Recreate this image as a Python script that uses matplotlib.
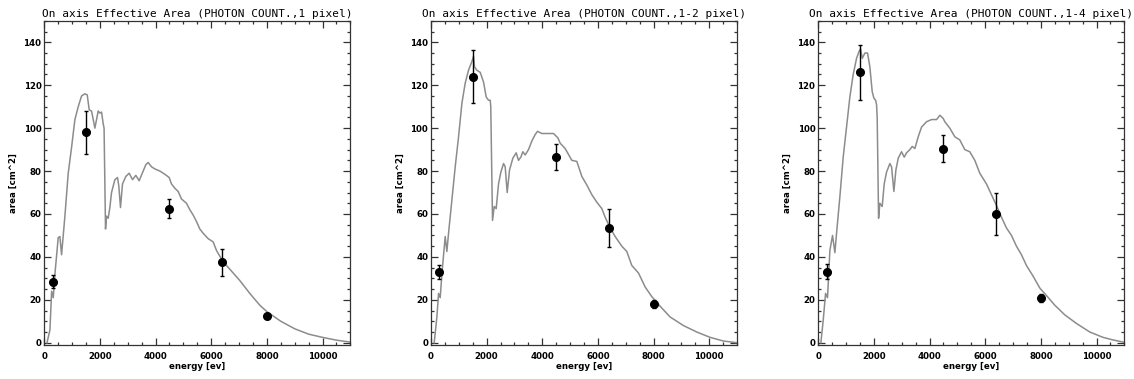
import numpy as np
import matplotlib
matplotlib.use('Agg')
import matplotlib.pyplot as plt
from matplotlib.ticker import MultipleLocator

# measured points (same energies in all panels)
energy_pts = [300, 1500, 4500, 6400, 8000]

area_1pix = [28.5, 98, 62.5, 37.5, 12.5]
err_1pix = [3, 10, 4.6, 6.3, 0.5]
area_2pix = [33, 124, 86.5, 53.5, 18]
err_2pix = [3.4, 12.5, 6.2, 8.7, 1.8]
area_4pix = [33, 126, 90.5, 60, 21]
err_4pix = [3.5, 12.7, 6.5, 9.8, 1.8]

# model effective area curves
curve1_e = [100, 205, 266, 325, 384, 503, 563, 623, 743, 862, 982, 1102, 1222, 1341, 1461,
            1545, 1616, 1700, 1820, 1939, 1999, 2059, 2119, 2150, 2202, 2238, 2298, 2358,
            2418, 2538, 2633, 2680, 2740, 2812, 2932, 3052, 3172, 3291, 3411, 3555, 3651,
            3735, 3854, 3974, 4154, 4333, 4489, 4572, 4692, 4812, 4931, 5111, 5231, 5351,
            5470, 5590, 5710, 5890, 6069, 6189, 6369, 6548, 6788, 7026, 7385, 7744, 8000,
            8500, 9000, 9500, 10000, 10500, 11000]
curve1_a = [0, 6, 24, 21, 32, 49, 49.5, 41, 59, 79, 91, 104, 110, 115, 116,
            115.5, 108.5, 108, 100, 108, 107, 107.5, 102, 100, 53, 59, 58, 63,
            70, 76, 77, 73, 63, 74, 77.5, 79, 76, 78, 75.5, 80, 83,
            84, 82, 81, 80, 78.5, 77, 74, 72, 70.5, 67, 65, 62, 59.5,
            56.5, 53, 51, 48.5, 47, 43, 39, 36, 32.5, 29, 23, 17.5, 14.5,
            10, 6.5, 4, 2.5, 1.2, 0.3]

curve2_e = [118, 214, 274, 334, 394, 513, 573, 633, 753, 873, 993, 1112, 1232, 1351, 1471,
            1531, 1567, 1651, 1771, 1890, 1986, 2070, 2130, 2150, 2213, 2273, 2345, 2429,
            2513, 2609, 2668, 2740, 2824, 2944, 3063, 3147, 3231, 3303, 3386, 3506, 3626,
            3745, 3829, 3985, 4224, 4404, 4560, 4643, 4823, 5062, 5242, 5422, 5601, 5781,
            5960, 6140, 6260, 6439, 6619, 6858, 7038, 7217, 7457, 7696, 7935, 8235, 8594,
            9073, 9552, 10031, 10510, 11000]
curve2_a = [0, 12, 23, 21, 32, 49.5, 42.5, 51, 66.5, 82, 96, 111.5, 121, 127, 131,
            133.5, 128.5, 127, 126, 121.5, 114.5, 113, 113, 110, 57, 63.5, 62.5, 74,
            79.5, 83.5, 82, 70, 80.5, 86, 88.5, 85, 86.5, 89, 87.5, 90, 94,
            97, 98.5, 97.5, 97.5, 97.5, 95.5, 93, 90.5, 85, 84.5, 77.5, 73.5, 69,
            65.5, 62.5, 58.5, 53.5, 49.5, 45, 42.5, 36, 32.5, 26, 21.5, 17, 12,
            8, 5, 2.5, 0.8, 0]

curve3_e = [97, 181, 265, 336, 420, 516, 600, 660, 779, 899, 1019, 1138, 1258, 1378, 1462,
            1522, 1582, 1678, 1774, 1857, 1941, 2001, 2061, 2097, 2120, 2170, 2216, 2300,
            2372, 2456, 2576, 2636, 2720, 2792, 2876, 2995, 3091, 3175, 3295, 3379, 3474,
            3594, 3714, 3894, 4073, 4253, 4373, 4493, 4549, 4729, 4908, 5088, 5267, 5447,
            5627, 5806, 6046, 6225, 6405, 6585, 6764, 6944, 7123, 7303, 7483, 7722, 7961,
            8201, 8500, 8859, 9278, 9757, 10236, 10595, 11000]
curve3_a = [0, 10.5, 23, 21, 43, 50, 42, 51, 68, 86.5, 100.5, 114.5, 125, 132.5, 135.5,
            137, 132.5, 135, 135, 128.5, 117, 114, 113, 111, 105, 58, 65, 63.5,
            74, 79.5, 83.5, 82, 70.5, 80.5, 86, 89, 86.5, 88.5, 90, 91.5, 90.5,
            96, 100.5, 103, 104, 104, 106, 104.5, 103, 100, 96, 94.5, 90, 89,
            85, 79, 74, 69, 64, 58.5, 53.5, 50, 45, 41, 36, 31, 25.5,
            22, 17.5, 13, 9, 5, 2.5, 1.3, 0.2]

titles = ['On axis Effective Area (PHOTON COUNT.,1 pixel)',
          'On axis Effective Area (PHOTON COUNT.,1-2 pixel)',
          'On axis Effective Area (PHOTON COUNT.,1-4 pixel)']


def plot_panel(ax, ce, ca, pa, pe, title):
    ax.plot(ce, ca, color='#8c8c8c', lw=1.1)
    ax.errorbar(energy_pts, pa, yerr=pe, fmt='o', color='black', ms=5.5,
                elinewidth=1, capsize=1.6, capthick=1, zorder=5)
    ax.set_xlim(0, 11000)
    ax.set_ylim(-1, 150)
    ax.set_xticks([0, 2000, 4000, 6000, 8000, 10000])
    ax.set_yticks([0, 20, 40, 60, 80, 100, 120, 140])
    ax.xaxis.set_minor_locator(MultipleLocator(500))
    ax.yaxis.set_minor_locator(MultipleLocator(5))
    ax.tick_params(which='both', direction='in', top=True, right=True,
                   color='#333333', width=0.9)
    ax.tick_params(which='major', length=4.8)
    ax.tick_params(which='minor', length=2.4)
    ax.tick_params(axis='x', pad=5)
    ax.tick_params(axis='y', pad=2)
    for lab in ax.get_xticklabels() + ax.get_yticklabels():
        lab.set_fontsize(6.2)
        lab.set_fontweight('bold')
    for s in ax.spines.values():
        s.set_color('#333333')
        s.set_linewidth(0.9)
    ax.set_xlabel('energy [ev]', fontsize=6.2, fontweight='bold', labelpad=1)
    ax.set_ylabel('area [cm^2]', fontsize=6.2, fontweight='bold', labelpad=4)
    ax.set_title(title, fontsize=8, family='DejaVu Sans Mono', pad=3)


fig = plt.figure(figsize=(11.34, 3.79), dpi=100)
lefts = [0.039, 0.380, 0.7215]
data = [(curve1_e, curve1_a, area_1pix, err_1pix),
        (curve2_e, curve2_a, area_2pix, err_2pix),
        (curve3_e, curve3_a, area_4pix, err_4pix)]
for i in range(3):
    ax = fig.add_axes([lefts[i], 0.09, 0.27, 0.855])
    ce, ca, pa, pe = data[i]
    plot_panel(ax, ce, ca, pa, pe, titles[i])

fig.savefig('out.png', dpi=100)
